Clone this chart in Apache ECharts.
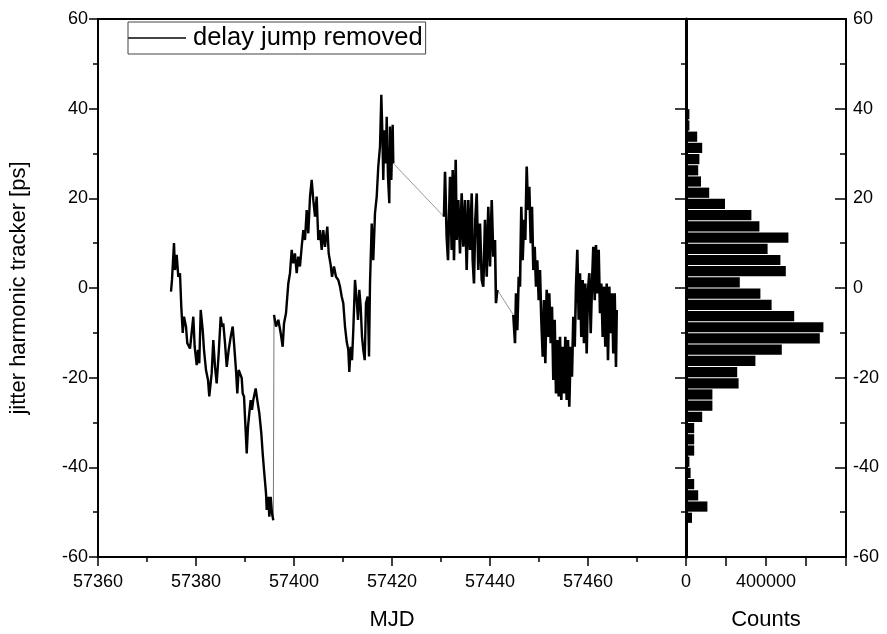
<!DOCTYPE html>
<html>
<head>
<meta charset="utf-8">
<script src="https://cdn.jsdelivr.net/npm/echarts/dist/echarts.min.js"></script>
<style>
  html, body { margin: 0; padding: 0; background: #fff; }
  #chart { width: 887px; height: 634px; }
</style>
</head>
<body>
<div id="chart"></div>
<script>
// time series as [MJD, ps]
const seg1 = [[57374.90,-0.8],[57375.10,1.8],[57375.51,10.0],[57375.71,4.0],[57376.06,7.4],[57376.39,2.5],[57376.73,3.3],[57377.00,-4.2],[57377.29,-10.0],[57377.55,-6.4],[57377.96,-8.6],[57378.22,-12.3],[57378.78,-13.5],[57379.45,-6.4],[57379.73,-13.1],[57380.14,-17.2],[57380.41,-13.8],[57380.67,-16.8],[57380.96,-4.9],[57381.37,-9.4],[57381.63,-13.8],[57382.04,-18.3],[57382.45,-20.5],[57382.71,-24.2],[57383.20,-19.0],[57383.53,-11.6],[57383.88,-17.6],[57384.22,-21.3],[57384.63,-14.6],[57385.04,-6.4],[57385.31,-8.6],[57385.57,-7.9],[57385.92,-12.3],[57386.27,-17.6],[57386.67,-13.8],[57387.08,-10.9],[57387.49,-8.6],[57387.76,-12.3],[57388.16,-18.3],[57388.43,-23.5],[57388.71,-18.3],[57389.33,-20.1],[57389.53,-23.5],[57389.80,-24.2],[57390.06,-30.2],[57390.35,-36.9],[57390.61,-30.9],[57390.88,-27.9],[57391.16,-25.0],[57391.43,-27.2],[57391.69,-25.0],[57392.18,-22.4],[57392.51,-25.0],[57392.92,-27.9],[57393.33,-32.4],[57393.61,-36.9],[57393.88,-40.6],[57394.29,-45.8],[57394.43,-49.5],[57394.76,-46.6],[57394.96,-51.0],[57395.24,-46.6],[57395.51,-50.3],[57395.78,-51.8]];
const seg2 = [[57395.92,-6.0],[57396.33,-8.6],[57396.80,-7.1],[57397.29,-10.1],[57397.69,-13.1],[57397.96,-7.9],[57398.37,-5.6],[57398.84,1.0],[57399.18,3.3],[57399.53,8.5],[57399.86,5.5],[57400.20,7.7],[57400.55,3.3],[57400.88,7.0],[57401.22,4.8],[57401.57,9.2],[57401.90,12.9],[57402.24,10.7],[57402.59,17.4],[57402.92,12.2],[57403.27,20.4],[57403.61,24.1],[57403.94,19.6],[57404.29,15.9],[57404.63,20.4],[57404.96,10.7],[57405.31,12.9],[57405.65,8.5],[57405.98,12.9],[57406.33,9.2],[57406.80,13.7],[57407.08,7.7],[57407.49,5.1],[57407.76,2.5],[57408.16,4.8],[57408.57,2.5],[57409.04,1.8],[57409.39,0.3],[57409.73,-1.9],[57410.06,-3.4],[57410.41,-8.6],[57410.76,-12.0],[57411.08,-13.8],[57411.29,-18.7],[57411.57,-13.1],[57411.84,-16.1],[57412.10,-9.4],[57412.45,1.8],[57412.80,-2.7],[57413.06,-7.1],[57413.33,-0.4],[57413.61,-4.2],[57413.88,-10.9],[57414.14,-13.8],[57414.43,-16.1],[57414.69,-3.4],[57415.04,-1.9],[57415.31,-15.3],[57415.51,1.0],[57415.86,14.4],[57416.18,6.2],[57416.53,16.7],[57416.88,20.4],[57417.20,27.1],[57417.55,31.5],[57417.82,43.1],[57418.02,35.2],[57418.22,24.1],[57418.43,35.2],[57418.71,27.8],[57418.92,38.2],[57419.18,24.8],[57419.45,18.9],[57419.59,36.0],[57419.86,24.1],[57420.14,36.4],[57420.27,27.8]];
const seg3 = [[57430.61,15.9],[57430.82,25.9],[57431.16,11.4],[57431.43,6.2],[57431.84,24.8],[57432.18,8.5],[57432.39,26.3],[57432.65,6.2],[57433.00,28.6],[57433.20,10.7],[57433.53,19.6],[57433.88,7.7],[57434.22,21.1],[57434.55,9.2],[57434.90,19.6],[57435.24,4.0],[57435.57,19.6],[57435.92,8.5],[57436.27,21.1],[57436.47,6.2],[57436.73,1.0],[57437.00,15.2],[57437.29,21.1],[57437.61,4.0],[57437.96,14.4],[57438.31,1.8],[57438.63,0.3],[57438.98,15.2],[57439.33,2.5],[57439.65,18.1],[57440.00,4.8],[57440.35,19.6],[57440.67,7.0],[57441.02,10.7],[57441.22,-3.4],[57441.49,-0.4]];
const seg4 = [[57444.76,-6.0],[57445.10,-12.3],[57445.31,-1.2],[57445.57,-9.4],[57445.86,2.5],[57446.12,0.3],[57446.39,18.1],[57446.67,6.2],[57446.94,15.2],[57447.20,10.7],[57447.49,27.1],[57447.76,17.4],[57448.02,22.6],[57448.31,10.0],[57448.57,18.1],[57448.84,4.0],[57449.12,9.2],[57449.39,0.3],[57449.65,6.2],[57449.94,-2.7],[57450.20,4.0],[57450.47,-7.1],[57450.76,-15.3],[57451.02,-2.7],[57451.29,-16.8],[57451.57,-0.4],[57451.84,-10.9],[57452.10,-1.2],[57452.39,-12.3],[57452.65,-4.2],[57452.92,-20.5],[57453.20,-7.1],[57453.47,-23.5],[57453.73,-11.6],[57454.02,-24.2],[57454.29,-10.9],[57454.55,-25.0],[57454.84,-13.1],[57455.10,-23.5],[57455.37,-10.9],[57455.65,-25.0],[57455.92,-11.6],[57456.18,-26.5],[57456.47,-13.1],[57456.73,-19.8],[57457.00,-6.4],[57457.29,-13.1],[57457.55,0.3],[57457.82,8.5],[57458.10,-7.1],[57458.37,3.3],[57458.63,-10.9],[57458.92,1.8],[57459.18,-12.3],[57459.45,1.0],[57459.73,-14.6],[57460.00,-0.4],[57460.27,3.3],[57460.55,-10.1],[57460.82,1.0],[57461.08,9.2],[57461.37,-2.7],[57461.63,9.6],[57461.90,-1.2],[57462.18,8.5],[57462.45,-5.6],[57462.71,1.0],[57463.00,-10.9],[57463.27,0.3],[57463.53,-13.1],[57463.82,1.0],[57464.08,-16.1],[57464.35,0.3],[57464.63,-10.1],[57464.90,-1.2],[57465.16,-14.6],[57465.45,-1.2],[57465.71,-17.6],[57465.86,-4.9]];
// gaps in the data, joined by a thin line
const gap1 = [[57395.78,-51.8],[57395.92,-6.0]];
const gap2 = [[57420.27,27.8],[57430.61,15.9]];
const gap3 = [[57441.49,-0.4],[57444.76,-6.0]];

// histogram: bins of 2.5 ps from -52.5 upward
const binStart = -52.5;
const binWidth = 2.5;
const counts = [30000,107000,61000,41000,23000,17000,41000,41000,41000,81000,132000,132000,263000,256000,347000,479000,669000,687000,541000,428000,372000,269000,499000,472000,408000,512000,367000,327000,195000,116000,75000,61000,67000,81000,56000,17000,17000];

const countLabels = [0, 400000];

const font = 'Liberation Sans, Arial, sans-serif';
const histData = counts.map((c, i) => [binStart + i * binWidth, binStart + (i + 1) * binWidth, c]);

const chart = echarts.init(document.getElementById('chart'));

function lineSeries(data, color, width) {
  return {
    name: 'delay jump removed',
    type: 'line',
    xAxisIndex: 0,
    yAxisIndex: 0,
    data: data,
    symbol: 'none',
    showSymbol: false,
    silent: true,
    lineStyle: { color: color, width: width, join: 'miter', miterLimit: 3 },
    itemStyle: { color: color },
    z: width > 1 ? 3 : 2
  };
}

const tick = { color: '#000', width: 1.5 };
const label = { fontSize: 18, color: '#000', fontFamily: font };
const title = { fontSize: 22, color: '#000', fontFamily: font };

const option = {
  animation: false,
  backgroundColor: '#fff',
  legend: {
    data: ['delay jump removed'],
    left: 128,
    top: 22,
    padding: [3, 3, 3, 0],
    borderColor: '#444',
    borderWidth: 1,
    icon: 'rect',
    itemWidth: 58,
    itemHeight: 2,
    itemGap: 0,
    itemStyle: { color: '#444' },
    textStyle: { fontSize: 25.5, color: '#000', fontFamily: font, padding: [0, 0, 0, 2] }
  },
  grid: [
    { left: 98, top: 19, width: 588, height: 538, containLabel: false, outerBoundsMode: 'none', show: true, borderColor: '#000', borderWidth: 2, backgroundColor: 'transparent' },
    { left: 686, top: 19, width: 160, height: 538, containLabel: false, outerBoundsMode: 'none', show: true, borderColor: '#000', borderWidth: 2, backgroundColor: 'transparent' }
  ],
  xAxis: [
    {
      gridIndex: 0, type: 'value', min: 57360, max: 57480, interval: 20,
      name: 'MJD', nameLocation: 'middle', nameGap: 52, nameTextStyle: title,
      axisLine: { onZero: false, lineStyle: { color: '#000', width: 2 } },
      axisTick: { inside: false, length: 9, lineStyle: tick },
      minorTick: { show: true, splitNumber: 2, length: 5, lineStyle: tick },
      axisLabel: Object.assign({ margin: 16, showMaxLabel: false, formatter: v => String(v) }, label),
      splitLine: { show: false }
    },
    {
      gridIndex: 1, type: 'value', min: 0, max: 800000, interval: 200000,
      name: 'Counts', nameLocation: 'middle', nameGap: 52, nameTextStyle: title,
      axisLine: { onZero: false, lineStyle: { color: '#000', width: 2 } },
      axisTick: { inside: false, length: 9, lineStyle: tick },
      axisLabel: Object.assign({
        margin: 16,
        formatter: v => countLabels.indexOf(v) >= 0 ? String(v) : ''
      }, label),
      splitLine: { show: false }
    }
  ],
  yAxis: [
    {
      gridIndex: 0, type: 'value', min: -60, max: 60, interval: 20, position: 'left',
      name: 'jitter harmonic tracker [ps]', nameLocation: 'middle', nameRotate: 90, nameGap: 68,
      nameTextStyle: title,
      axisLine: { onZero: false, lineStyle: { color: '#000', width: 2 } },
      axisTick: { inside: false, length: 9, lineStyle: tick },
      minorTick: { show: true, splitNumber: 2, length: 5, lineStyle: tick },
      axisLabel: Object.assign({ margin: 10 }, label),
      splitLine: { show: false }
    },
    {
      gridIndex: 1, type: 'value', min: -60, max: 60, interval: 20, position: 'left',
      axisLine: { onZero: false, lineStyle: { color: '#000', width: 3 } },
      axisTick: { inside: false, length: 11, lineStyle: tick },
      minorTick: { show: true, splitNumber: 2, length: 5, lineStyle: tick },
      axisLabel: { show: false },
      splitLine: { show: false }
    },
    {
      gridIndex: 1, type: 'value', min: -60, max: 60, interval: 20, position: 'right',
      axisLine: { onZero: false, lineStyle: { color: '#000', width: 2 } },
      axisTick: { inside: true, length: 11, lineStyle: tick },
      minorTick: { show: true, splitNumber: 2, length: 6, lineStyle: tick },
      axisLabel: Object.assign({ margin: 7 }, label),
      splitLine: { show: false }
    }
  ],
  series: [
    lineSeries(seg1, '#000', 2.4),
    lineSeries(seg2, '#000', 2.4),
    lineSeries(seg3, '#000', 2.6),
    lineSeries(seg4, '#000', 2.6),
    lineSeries(gap1, '#777', 1),
    lineSeries(gap2, '#999', 1),
    lineSeries(gap3, '#999', 1),
    {
      name: 'Counts',
      type: 'custom',
      xAxisIndex: 1,
      yAxisIndex: 1,
      silent: true,
      data: histData,
      encode: { x: 2, y: [0, 1] },
      renderItem: function (params, api) {
        const top = api.coord([0, api.value(1)]);
        const end = api.coord([api.value(2), api.value(0)]);
        return {
          type: 'rect',
          shape: { x: top[0], y: top[1] + 0.5, width: end[0] - top[0], height: end[1] - top[1] - 1 },
          style: { fill: '#000' }
        };
      }
    }
  ]
};

chart.setOption(option);
window.addEventListener('resize', function () {
  chart.resize();
});
</script>
</body>
</html>
